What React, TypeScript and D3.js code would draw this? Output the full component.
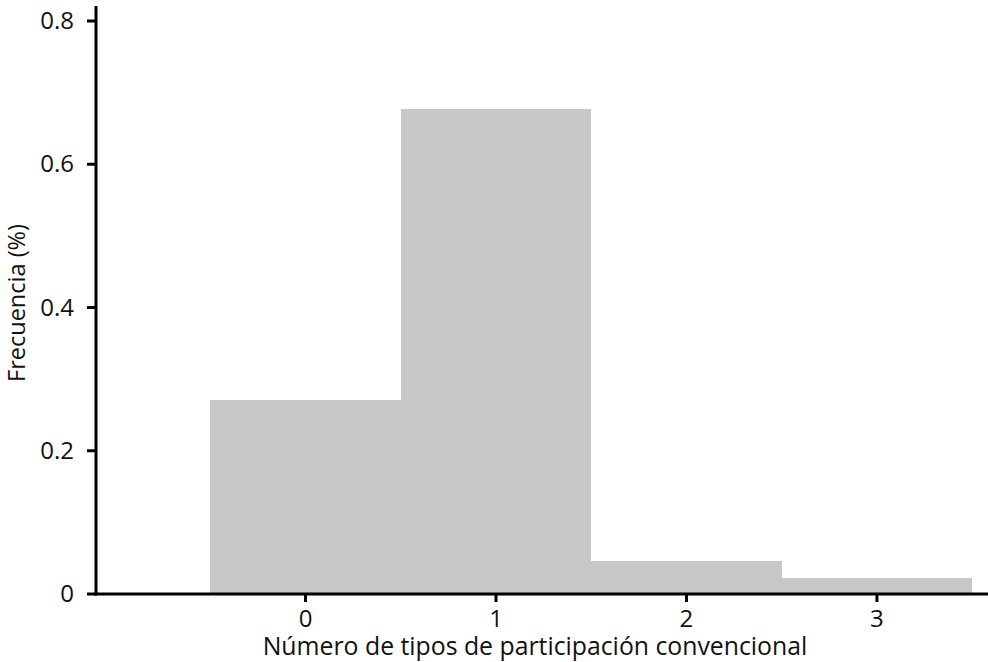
import React from "react";
import * as d3 from "d3";

// Histogram of the number of conventional participation types
const categories = [0, 1, 2, 3];
const frequencies = [0.271, 0.677, 0.046, 0.022];
const yTicks = [0, 0.2, 0.4, 0.6, 0.8];
const xTicks = [0, 1, 2, 3];

const W = 988;
const H = 662;
const FONT = "'Open Sans', 'Noto Sans', sans-serif";

export default function App() {
  const x = d3.scaleLinear().domain([-1.1, 3.583]).range([96, 988]);
  const y = d3.scaleLinear().domain([0, 0.8]).range([594, 21]);
  const binHalf = 0.5;

  return (
    <svg
      width={W}
      height={H}
      style={{ position: "absolute", left: 0, top: 0, background: "#fff" }}
      fontFamily={FONT}
    >
      {categories.map((c, i) => (
        <rect
          key={c}
          x={x(c - binHalf)}
          y={y(frequencies[i])}
          width={x(c + binHalf) - x(c - binHalf)}
          height={y(0) - y(frequencies[i])}
          fill="#c6c7c9"
          shapeRendering="crispEdges"
        />
      ))}

      {/* y axis */}
      <line x1={96} x2={96} y1={6} y2={595.5} stroke="#000" strokeWidth={3} />
      {yTicks.map((t) => (
        <g key={t}>
          <line x1={87} x2={96} y1={y(t)} y2={y(t)} stroke="#000" strokeWidth={3} />
          <text
            x={74}
            y={y(t) + 8}
            textAnchor="end"
            fontSize={24}
            fill="#111"
          >
            {t === 0 ? "0" : d3.format(".1f")(t)}
          </text>
        </g>
      ))}

      {/* x axis */}
      <line x1={94.5} x2={988} y1={594} y2={594} stroke="#000" strokeWidth={3} />
      {xTicks.map((t) => (
        <g key={t}>
          <line x1={x(t)} x2={x(t)} y1={594} y2={602} stroke="#000" strokeWidth={3} />
          <text x={x(t)} y={627} textAnchor="middle" fontSize={24} fill="#111">
            {t}
          </text>
        </g>
      ))}

      <text x={535} y={655} textAnchor="middle" fontSize={24.8} fill="#111">
        Número de tipos de participación convencional
      </text>
      <text
        transform={`translate(25, 303) rotate(-90)`}
        textAnchor="middle"
        fontSize={23.5}
        fill="#111"
      >
        Frecuencia (%)
      </text>
    </svg>
  );
}
